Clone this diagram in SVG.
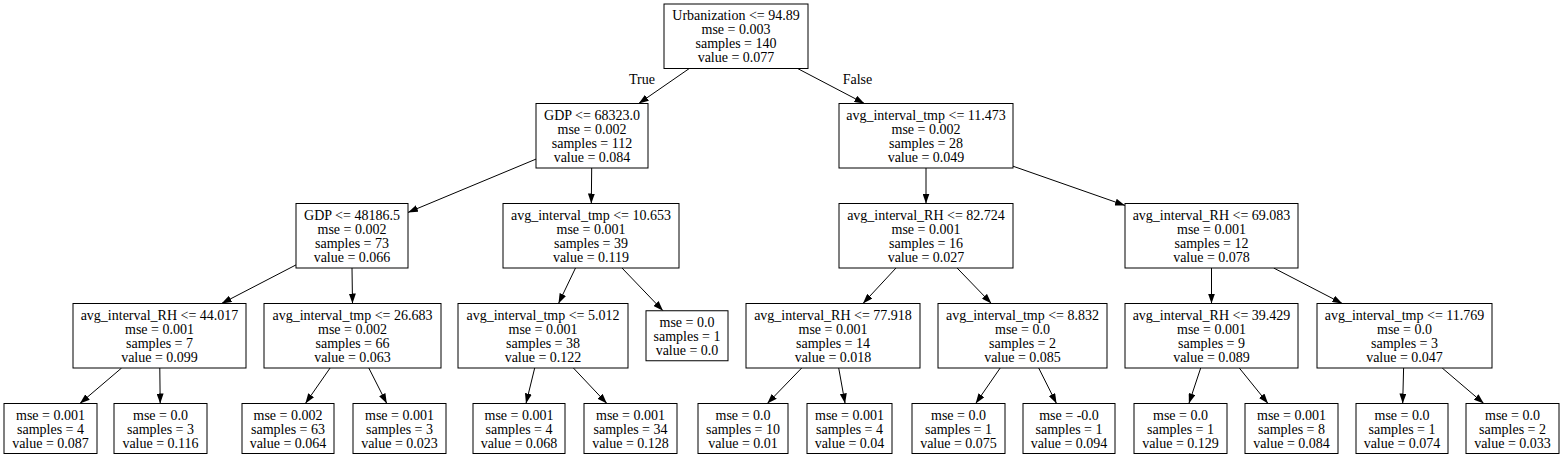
<svg xmlns="http://www.w3.org/2000/svg" width="1566" height="458" viewBox="0 0 1566 458">
<style>
.n rect{fill:#fff;stroke:#000;stroke-width:1}
text{font-family:"Liberation Serif","Times New Roman",serif;font-size:14px;fill:#000;text-anchor:middle}
.e line{stroke:#000;stroke-width:1;marker-end:url(#ah)}
</style>
<defs>
<marker id="ah" markerUnits="userSpaceOnUse" markerWidth="10" markerHeight="7" refX="10" refY="3.5" orient="auto" viewBox="0 0 10 7">
<path d="M0,0 L10,3.5 L0,7 z" fill="#000"/>
</marker>
</defs>
<rect width="1566" height="458" fill="#fff"/>
<g id="edges" class="e">
<line x1="689.3" y1="68.5" x2="638.7" y2="103.5"/>
<line x1="797.6" y1="68.5" x2="864.4" y2="103.5"/>
<line x1="536" y1="159.1" x2="408" y2="212.4"/>
<line x1="591.7" y1="168" x2="591.3" y2="203.5"/>
<line x1="926" y1="168" x2="926" y2="203.5"/>
<line x1="1013" y1="166.2" x2="1125" y2="205.4"/>
<line x1="296" y1="264.9" x2="221.6" y2="303.5"/>
<line x1="352" y1="268" x2="352.5" y2="303.5"/>
<line x1="575.5" y1="268" x2="558.5" y2="303.5"/>
<line x1="622" y1="268" x2="663" y2="310.75"/>
<line x1="896" y1="268" x2="863" y2="303.5"/>
<line x1="957.1" y1="268" x2="991.4" y2="303.5"/>
<line x1="1211.5" y1="268" x2="1211.5" y2="303.5"/>
<line x1="1273.7" y1="268" x2="1342.3" y2="303.5"/>
<line x1="121.6" y1="368" x2="79.9" y2="403.5"/>
<line x1="159.8" y1="368" x2="160.2" y2="403.5"/>
<line x1="330.1" y1="368" x2="305.4" y2="403.5"/>
<line x1="368.8" y1="368" x2="386.8" y2="403.5"/>
<line x1="534.7" y1="368" x2="526" y2="403.5"/>
<line x1="573.4" y1="368" x2="606.9" y2="403.5"/>
<line x1="801.7" y1="368" x2="767.3" y2="403.5"/>
<line x1="838.7" y1="368" x2="845.1" y2="403.5"/>
<line x1="1000.2" y1="368" x2="975.7" y2="403.5"/>
<line x1="1038.7" y1="368" x2="1056.5" y2="403.5"/>
<line x1="1200.7" y1="368" x2="1188.9" y2="403.5"/>
<line x1="1239.3" y1="368" x2="1268" y2="403.5"/>
<line x1="1403.6" y1="368" x2="1402.7" y2="403.5"/>
<line x1="1442.2" y1="368" x2="1483.8" y2="403.5"/>
<text x="642" y="83.5">True</text>
<text x="857.5" y="83.5">False</text>
</g>
<g id="n0" class="n"><rect x="664" y="4" width="144" height="64.5"/><text x="736" y="20">Urbanization &lt;= 94.89</text><text x="736" y="34">mse = 0.003</text><text x="736" y="48">samples = 140</text><text x="736" y="62">value = 0.077</text></g>
<g id="n1" class="n"><rect x="536" y="103.5" width="112" height="64.5"/><text x="592" y="119.5">GDP &lt;= 68323.0</text><text x="592" y="133.5">mse = 0.002</text><text x="592" y="147.5">samples = 112</text><text x="592" y="161.5">value = 0.084</text></g>
<g id="n2" class="n"><rect x="839" y="103.5" width="174" height="64.5"/><text x="926" y="119.5">avg_interval_tmp &lt;= 11.473</text><text x="926" y="133.5">mse = 0.002</text><text x="926" y="147.5">samples = 28</text><text x="926" y="161.5">value = 0.049</text></g>
<g id="n3" class="n"><rect x="296" y="203.5" width="112" height="64.5"/><text x="352" y="219.5">GDP &lt;= 48186.5</text><text x="352" y="233.5">mse = 0.002</text><text x="352" y="247.5">samples = 73</text><text x="352" y="261.5">value = 0.066</text></g>
<g id="n4" class="n"><rect x="503" y="203.5" width="176" height="64.5"/><text x="591" y="219.5">avg_interval_tmp &lt;= 10.653</text><text x="591" y="233.5">mse = 0.001</text><text x="591" y="247.5">samples = 39</text><text x="591" y="261.5">value = 0.119</text></g>
<g id="n5" class="n"><rect x="839" y="203.5" width="174" height="64.5"/><text x="926" y="219.5">avg_interval_RH &lt;= 82.724</text><text x="926" y="233.5">mse = 0.001</text><text x="926" y="247.5">samples = 16</text><text x="926" y="261.5">value = 0.027</text></g>
<g id="n6" class="n"><rect x="1125" y="203.5" width="173" height="64.5"/><text x="1211.5" y="219.5">avg_interval_RH &lt;= 69.083</text><text x="1211.5" y="233.5">mse = 0.001</text><text x="1211.5" y="247.5">samples = 12</text><text x="1211.5" y="261.5">value = 0.078</text></g>
<g id="n7" class="n"><rect x="73" y="303.5" width="173" height="64.5"/><text x="159.5" y="319.5">avg_interval_RH &lt;= 44.017</text><text x="159.5" y="333.5">mse = 0.001</text><text x="159.5" y="347.5">samples = 7</text><text x="159.5" y="361.5">value = 0.099</text></g>
<g id="n8" class="n"><rect x="264" y="303.5" width="177" height="64.5"/><text x="352.5" y="319.5">avg_interval_tmp &lt;= 26.683</text><text x="352.5" y="333.5">mse = 0.002</text><text x="352.5" y="347.5">samples = 66</text><text x="352.5" y="361.5">value = 0.063</text></g>
<g id="n9" class="n"><rect x="458" y="303.5" width="170" height="64.5"/><text x="543" y="319.5">avg_interval_tmp &lt;= 5.012</text><text x="543" y="333.5">mse = 0.001</text><text x="543" y="347.5">samples = 38</text><text x="543" y="361.5">value = 0.122</text></g>
<g id="n10" class="n"><rect x="646" y="310.75" width="82" height="50"/><text x="687" y="326.75">mse = 0.0</text><text x="687" y="340.75">samples = 1</text><text x="687" y="354.75">value = 0.0</text></g>
<g id="n11" class="n"><rect x="746" y="303.5" width="174" height="64.5"/><text x="833" y="319.5">avg_interval_RH &lt;= 77.918</text><text x="833" y="333.5">mse = 0.001</text><text x="833" y="347.5">samples = 14</text><text x="833" y="361.5">value = 0.018</text></g>
<g id="n12" class="n"><rect x="938" y="303.5" width="169" height="64.5"/><text x="1022.5" y="319.5">avg_interval_tmp &lt;= 8.832</text><text x="1022.5" y="333.5">mse = 0.0</text><text x="1022.5" y="347.5">samples = 2</text><text x="1022.5" y="361.5">value = 0.085</text></g>
<g id="n13" class="n"><rect x="1125" y="303.5" width="173" height="64.5"/><text x="1211.5" y="319.5">avg_interval_RH &lt;= 39.429</text><text x="1211.5" y="333.5">mse = 0.001</text><text x="1211.5" y="347.5">samples = 9</text><text x="1211.5" y="361.5">value = 0.089</text></g>
<g id="n14" class="n"><rect x="1317" y="303.5" width="175" height="64.5"/><text x="1404.5" y="319.5">avg_interval_tmp &lt;= 11.769</text><text x="1404.5" y="333.5">mse = 0.0</text><text x="1404.5" y="347.5">samples = 3</text><text x="1404.5" y="361.5">value = 0.047</text></g>
<g id="n15" class="n"><rect x="4" y="403.5" width="93" height="50"/><text x="50.5" y="419.5">mse = 0.001</text><text x="50.5" y="433.5">samples = 4</text><text x="50.5" y="447.5">value = 0.087</text></g>
<g id="n16" class="n"><rect x="114" y="403.5" width="93" height="50"/><text x="160.5" y="419.5">mse = 0.0</text><text x="160.5" y="433.5">samples = 3</text><text x="160.5" y="447.5">value = 0.116</text></g>
<g id="n17" class="n"><rect x="242" y="403.5" width="92" height="50"/><text x="288" y="419.5">mse = 0.002</text><text x="288" y="433.5">samples = 63</text><text x="288" y="447.5">value = 0.064</text></g>
<g id="n18" class="n"><rect x="353" y="403.5" width="93" height="50"/><text x="399.5" y="419.5">mse = 0.001</text><text x="399.5" y="433.5">samples = 3</text><text x="399.5" y="447.5">value = 0.023</text></g>
<g id="n19" class="n"><rect x="473" y="403.5" width="92" height="50"/><text x="519" y="419.5">mse = 0.001</text><text x="519" y="433.5">samples = 4</text><text x="519" y="447.5">value = 0.068</text></g>
<g id="n20" class="n"><rect x="584" y="403.5" width="93" height="50"/><text x="630.5" y="419.5">mse = 0.001</text><text x="630.5" y="433.5">samples = 34</text><text x="630.5" y="447.5">value = 0.128</text></g>
<g id="n21" class="n"><rect x="698" y="403.5" width="90" height="50"/><text x="743" y="419.5">mse = 0.0</text><text x="743" y="433.5">samples = 10</text><text x="743" y="447.5">value = 0.01</text></g>
<g id="n22" class="n"><rect x="807" y="403.5" width="85" height="50"/><text x="849.5" y="419.5">mse = 0.001</text><text x="849.5" y="433.5">samples = 4</text><text x="849.5" y="447.5">value = 0.04</text></g>
<g id="n23" class="n"><rect x="912" y="403.5" width="93" height="50"/><text x="958.5" y="419.5">mse = 0.0</text><text x="958.5" y="433.5">samples = 1</text><text x="958.5" y="447.5">value = 0.075</text></g>
<g id="n24" class="n"><rect x="1023" y="403.5" width="92" height="50"/><text x="1069" y="419.5">mse = -0.0</text><text x="1069" y="433.5">samples = 1</text><text x="1069" y="447.5">value = 0.094</text></g>
<g id="n25" class="n"><rect x="1134" y="403.5" width="93" height="50"/><text x="1180.5" y="419.5">mse = 0.0</text><text x="1180.5" y="433.5">samples = 1</text><text x="1180.5" y="447.5">value = 0.129</text></g>
<g id="n26" class="n"><rect x="1245" y="403.5" width="93" height="50"/><text x="1291.5" y="419.5">mse = 0.001</text><text x="1291.5" y="433.5">samples = 8</text><text x="1291.5" y="447.5">value = 0.084</text></g>
<g id="n27" class="n"><rect x="1356" y="403.5" width="92" height="50"/><text x="1402" y="419.5">mse = 0.0</text><text x="1402" y="433.5">samples = 1</text><text x="1402" y="447.5">value = 0.074</text></g>
<g id="n28" class="n"><rect x="1466" y="403.5" width="93" height="50"/><text x="1512.5" y="419.5">mse = 0.0</text><text x="1512.5" y="433.5">samples = 2</text><text x="1512.5" y="447.5">value = 0.033</text></g>
</svg>
